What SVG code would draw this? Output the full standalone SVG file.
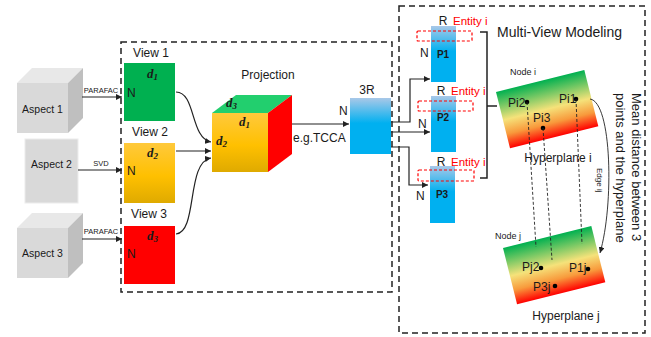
<svg xmlns="http://www.w3.org/2000/svg" width="651" height="337" viewBox="0 0 651 337">
<style>
text{font-family:"Liberation Sans","DejaVu Sans",sans-serif;fill:#1a1a1a}
.dbox{fill:none;stroke:#222;stroke-width:1.5;stroke-dasharray:6,4}
.ln{fill:none;stroke:#222;stroke-width:1.2}
.red{fill:none;stroke:#ff0000;stroke-width:1.2;stroke-dasharray:3,2}
.dl{fill:none;stroke:#222;stroke-width:0.9;stroke-dasharray:3,2}
.ent{fill:#ff0000;font-size:11.5px}
.math{font-family:"Liberation Serif","DejaVu Serif",serif;font-style:italic;font-weight:bold;font-size:13px}
.sub{font-size:9px}
.pl{font-size:10px;font-weight:bold}
.lbl{font-size:12px}
.sm{font-size:7.5px}
</style>
<defs>
<marker id="ah" markerWidth="6" markerHeight="6" refX="6" refY="3" orient="auto" markerUnits="userSpaceOnUse"><path d="M0,0 L6,3 L0,6 z" fill="#222"/></marker>
<linearGradient id="gy" x1="0" y1="0" x2="0" y2="1"><stop offset="0" stop-color="#ffc93c"/><stop offset="0.55" stop-color="#ffc000"/><stop offset="1" stop-color="#dfaa00"/></linearGradient>
<linearGradient id="gb" x1="0" y1="0" x2="0" y2="1"><stop offset="0" stop-color="#a9c8e8"/><stop offset="0.45" stop-color="#00b0f0"/><stop offset="1" stop-color="#00b0f0"/></linearGradient>
<linearGradient id="gh" x1="0" y1="0" x2="0" y2="1"><stop offset="0" stop-color="#00b050"/><stop offset="0.5" stop-color="#f5e27a"/><stop offset="0.75" stop-color="#f89a3c"/><stop offset="1" stop-color="#ff0000"/></linearGradient>
</defs>

<rect class="dbox" x="121" y="42" width="271" height="250"/>
<rect class="dbox" x="399" y="6" width="246" height="327"/>

<g id="aspect1">
<polygon points="17,83 32,68 83,68 68,83" fill="#e8e8e8"/>
<polygon points="68,83 83,68 83,118 68,133" fill="#bfbfbf"/>
<rect x="17" y="83" width="51" height="50" fill="#d9d9d9"/>
<text x="42.5" y="113" text-anchor="middle" font-size="10.5">Aspect 1</text>
</g>
<g id="aspect2">
<rect x="25" y="139" width="53" height="64" fill="#d9d9d9" stroke="#ececec"/>
<text x="51.5" y="168" text-anchor="middle" font-size="10.5">Aspect 2</text>
</g>
<g id="aspect3">
<polygon points="17,228 32,213 83,213 68,228" fill="#e8e8e8"/>
<polygon points="68,228 83,213 83,263 68,278" fill="#bfbfbf"/>
<rect x="17" y="228" width="51" height="50" fill="#d9d9d9"/>
<text x="42.5" y="257" text-anchor="middle" font-size="10.5">Aspect 3</text>
</g>

<g id="view1">
<text x="151" y="57" text-anchor="middle" class="lbl">View 1</text>
<rect x="124" y="63" width="51" height="58" fill="#00b050"/>
<text x="147" y="78" class="math">d<tspan class="sub" dy="2">1</tspan></text>
<text x="127" y="97" class="lbl">N</text>
</g>
<g id="view2">
<text x="150" y="136" text-anchor="middle" class="lbl">View 2</text>
<rect x="124" y="143" width="51" height="60" fill="url(#gy)"/>
<text x="147" y="157" class="math">d<tspan class="sub" dy="2">2</tspan></text>
<text x="127" y="175" class="lbl">N</text>
</g>
<g id="view3">
<text x="149" y="218" text-anchor="middle" class="lbl">View 3</text>
<rect x="124" y="226" width="51" height="58" fill="#ff0000"/>
<text x="147" y="240" class="math">d<tspan class="sub" dy="2">3</tspan></text>
<text x="127" y="258" class="lbl">N</text>
</g>

<g id="projection">
<text x="268" y="79" text-anchor="middle" class="lbl">Projection</text>
<polygon points="212,113 236,95 292,95 268,113" fill="#22cf6e"/>
<polygon points="268,113 292,95 292,154 268,172" fill="#ff0000"/>
<rect x="212" y="113" width="56" height="59" fill="url(#gy)"/>
<text x="226" y="107" class="math">d<tspan class="sub" dy="2">3</tspan></text>
<text x="239" y="126" class="math">d<tspan class="sub" dy="2">1</tspan></text>
<text x="216" y="145" class="math">d<tspan class="sub" dy="2">2</tspan></text>
</g>

<g id="box3R">
<text x="367" y="94" text-anchor="middle" class="lbl">3R</text>
<rect x="350" y="98" width="41" height="56" fill="url(#gb)"/>
<text x="339" y="115" class="lbl">N</text>
</g>

<g id="P1">
<rect x="431" y="26" width="25" height="56" fill="url(#gb)"/>
<rect class="red" x="417" y="31" width="55" height="10" rx="1"/>
<text x="443" y="25" text-anchor="middle" class="lbl">R</text>
<text x="453" y="25" class="ent">Entity i</text>
<text x="420" y="57" class="lbl">N</text>
<text x="443" y="58" text-anchor="middle" class="pl">P1</text>
</g>
<g id="P2">
<rect x="431" y="96" width="25" height="56" fill="url(#gb)"/>
<rect class="red" x="418" y="101" width="55" height="10" rx="1"/>
<text x="441" y="95" text-anchor="middle" class="lbl">R</text>
<text x="451" y="95" class="ent">Entity i</text>
<text x="418" y="128" class="lbl">N</text>
<text x="443" y="121" text-anchor="middle" class="pl">P2</text>
</g>
<g id="P3">
<rect x="430" y="166" width="25" height="57" fill="url(#gb)"/>
<rect class="red" x="418" y="170" width="56" height="11" rx="1"/>
<text x="441" y="166" text-anchor="middle" class="lbl">R</text>
<text x="451" y="166" class="ent">Entity i</text>
<text x="416" y="200" class="lbl">N</text>
<text x="442" y="198" text-anchor="middle" class="pl">P3</text>
</g>

<g id="title">
<text x="497" y="37" font-size="14px">Multi-View Modeling</text>
</g>

<g id="hyperplane_i">
<g transform="translate(496,92) rotate(-14)"><rect x="0" y="0" width="91" height="58" fill="url(#gh)"/></g>
<text x="510" y="75" font-size="9px">Node i</text>
<text x="508" y="107" class="lbl">Pi2</text>
<circle cx="527" cy="102" r="2.3" fill="#000"/>
<text x="559" y="103" class="lbl">Pi1</text>
<circle cx="576" cy="99" r="2.3" fill="#000"/>
<text x="533" y="122" class="lbl">Pi3</text>
<circle cx="543" cy="128" r="2.3" fill="#000"/>
<text x="558" y="162" text-anchor="middle" class="lbl">Hyperplane i</text>
</g>

<g id="hyperplane_j">
<g transform="translate(503,248) rotate(-14)"><rect x="0" y="0" width="91" height="58" fill="url(#gh)"/></g>
<text x="495" y="239" font-size="9px">Node j</text>
<text x="522" y="271" class="lbl">Pj2</text>
<circle cx="541" cy="268" r="2.3" fill="#000"/>
<text x="569" y="272" class="lbl">P1j</text>
<circle cx="588" cy="269" r="2.3" fill="#000"/>
<text x="533" y="291" class="lbl">P3j</text>
<circle cx="555" cy="286" r="2.3" fill="#000"/>
<text x="566" y="320" text-anchor="middle" class="lbl">Hyperplane j</text>
</g>

<g id="note">
<text transform="translate(632,93) rotate(90)" font-size="13px">Mean distance between 3</text>
<text transform="translate(616,93) rotate(90)" font-size="13px">points and the hyperplane</text>
</g>

<g id="connectors">
<line class="ln" x1="82" y1="97" x2="122" y2="97" marker-end="url(#ah)"/>
<text x="101" y="93" text-anchor="middle" class="sm">PARAFAC</text>
<line class="ln" x1="78" y1="170" x2="122" y2="170" marker-end="url(#ah)"/>
<text x="101" y="166" text-anchor="middle" class="sm">SVD</text>
<line class="ln" x1="82" y1="239" x2="122" y2="239" marker-end="url(#ah)"/>
<text x="101" y="234" text-anchor="middle" class="sm">PARAFAC</text>
<path class="ln" d="M176,92 C196,92 190,138 211,142" marker-end="url(#ah)"/>
<line class="ln" x1="176" y1="151" x2="211" y2="151" marker-end="url(#ah)"/>
<path class="ln" d="M176,234 C198,232 186,162 211,158" marker-end="url(#ah)"/>
<line class="ln" x1="292" y1="124" x2="349" y2="124" marker-end="url(#ah)"/>
<text x="293" y="142" class="lbl">e.g.TCCA</text>
<polyline class="ln" points="391,122 410,122 410,79 430,79" marker-end="url(#ah)"/>
<line class="ln" x1="391" y1="132" x2="430" y2="132" marker-end="url(#ah)"/>
<polyline class="ln" points="391,147 409,147 409,185 428,185" marker-end="url(#ah)"/>
<path fill="none" stroke="#222" stroke-width="1.5" d="M480,32 H487 V178 H480 M487,106 H497"/>
<line class="dl" x1="527" y1="102" x2="536" y2="247"/>
<line class="dl" x1="543" y1="128" x2="552" y2="260"/>
<line class="dl" x1="576" y1="99" x2="582" y2="244"/>
<path fill="none" stroke="#222" stroke-width="0.9" d="M590,99 C612,102 614,205 600,253" marker-end="url(#ah)"/>
<text transform="translate(597,168) rotate(90)" font-size="8px">Edge  ij</text>
</g>
</svg>
